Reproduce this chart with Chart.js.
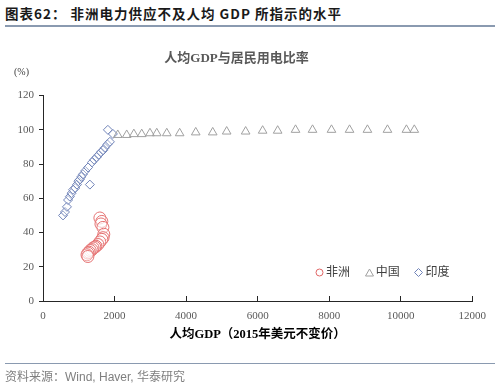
<!DOCTYPE html>
<html>
<head>
<meta charset="utf-8">
<script src="https://cdn.jsdelivr.net/npm/chart.js@4.4.1/dist/chart.umd.min.js"></script>
<style>
  body { margin: 0; background: #fff; width: 500px; height: 386px; position: relative; overflow: hidden;
         font-family: "Noto Sans CJK SC", "Liberation Sans", sans-serif; }
  #chart { position: absolute; left: 0; top: 0; }
  .header { position: absolute; left: 5px; top: 3px; font-size: 13.5px; font-weight: bold; color: #1a1a1a; letter-spacing: 1px; }
  .hline { position: absolute; left: 5px; width: 490px; top: 25px; height: 2px; background: #8a9ab0; }
  .unit { position: absolute; left: 14px; top: 66px; font-size: 10px; color: #404040; font-family: "Liberation Serif", serif; }
  .legend { position: absolute; left: 315px; top: 262px; font-size: 12px; color: #404040; }
  .legend span { margin-right: 12px; }
  .legend svg { vertical-align: -1px; margin-right: 2px; }
  .fline { position: absolute; left: 5px; width: 490px; top: 363px; height: 1px; background: #8a9ab0; }
  .footer { position: absolute; left: 5px; top: 367px; font-size: 12px; color: #7f7f7f; }
  .footer .en { font-family: "Liberation Sans", sans-serif; }
</style>
</head>
<body>
<div class="header">图表62： 非洲电力供应不及人均 GDP 所指示的水平</div>
<div class="hline"></div>
<canvas id="chart" width="500" height="386"></canvas>
<div class="unit">(%)</div>
<div class="legend">
  <span><svg width="9" height="9"><circle cx="4.5" cy="4.5" r="3.5" fill="none" stroke="#e06666" stroke-width="1"/></svg>非洲</span>
  <span><svg width="9" height="9"><polygon points="4.5,1 8.5,8 0.5,8" fill="none" stroke="#a0a0a0" stroke-width="1"/></svg>中国</span>
  <span><svg width="9" height="9"><polygon points="4.5,0.5 8.5,4.5 4.5,8.5 0.5,4.5" fill="none" stroke="#7083b8" stroke-width="1"/></svg>印度</span>
</div>
<div class="fline"></div>
<div class="footer">资料来源：<span class="en">Wind, Haver, </span>华泰研究</div>

<script>
// 人均GDP（2015年美元不变价） vs 居民用电比率 (%)
const africaGdp  = [1590, 1645, 1620, 1675, 1700, 1680, 1645, 1590, 1535, 1480, 1450, 1400, 1370, 1320, 1290, 1255, 1230, 1255];
const africaRate = [48.5, 46.5, 45, 43, 39, 37, 36, 34.5, 33, 32, 31.5, 31, 30, 29.5, 28.5, 28, 27, 26];

const chinaGdp  = [2090, 2340, 2540, 2760, 2990, 3180, 3460, 3820, 4270, 4745, 5135, 5665, 6140, 6560, 7060, 7535, 8065, 8570, 9070, 9630, 10160, 10380];
const chinaRate = [97, 97, 97.5, 97.5, 98, 98, 98, 98, 98.5, 98.5, 99, 99, 99.5, 99.5, 100, 100, 100, 100, 100, 100, 100, 100];

const indiaGdp  = [560, 615, 670, 700, 750, 800, 840, 900, 950, 990, 1030, 1070, 1115, 1180, 1260, 1310, 1370, 1430, 1500, 1560, 1620, 1680, 1730, 1800, 1870, 1814, 1954];
const indiaRate = [50, 52, 55, 59, 61, 63, 65, 66, 68, 70, 71, 72.5, 74, 76, 78, 68, 81, 82.5, 84, 85.5, 87, 88, 89.5, 91.5, 93, 100, 97.6];

const xTicks = [0, 2000, 4000, 6000, 8000, 10000, 12000];
const yTicks = [0, 20, 40, 60, 80, 100, 120];

function pts(xs, ys) {
    return xs.map((x, i) => ({ x: x, y: ys[i] }));
}

const ctx = document.getElementById('chart').getContext('2d');
const chart = new Chart(ctx, {
    type: 'scatter',
    data: {
        datasets: [
            {
                label: '非洲',
                data: pts(africaGdp, africaRate),
                pointStyle: 'circle',
                pointRadius: 6,
                backgroundColor: 'rgba(255,255,255,0.35)',
                borderColor: '#e57373',
                borderWidth: 1
            },
            {
                label: '中国',
                data: pts(chinaGdp, chinaRate),
                pointStyle: 'triangle',
                pointRadius: 5,
                backgroundColor: 'rgba(255,255,255,0)',
                borderColor: '#a0a0a0',
                borderWidth: 1
            },
            {
                label: '印度',
                data: pts(indiaGdp, indiaRate),
                pointStyle: 'rectRot',
                pointRadius: 4.5,
                backgroundColor: 'rgba(255,255,255,0.3)',
                borderColor: '#7083b8',
                borderWidth: 1
            }
        ]
    },
    options: {
        responsive: false,
        animation: false,
        layout: { padding: { top: 30, right: 27, bottom: 44, left: 0 } },
        plugins: {
            legend: { display: false },
            tooltip: { enabled: false },
            title: {
                display: true,
                text: '人均GDP与居民用电比率',
                color: '#595959',
                font: { family: '"Liberation Serif", "Noto Sans CJK SC", serif', size: 13, weight: 'bold' },
                padding: { top: 21, bottom: 29 }
            }
        },
        scales: {
            x: {
                type: 'linear',
                min: 0,
                max: 12000,
                afterBuildTicks: (s) => { s.ticks = xTicks.map(v => ({ value: v })); },
                afterFit: (s) => { s.height = 41; },
                border: { color: '#262626', width: 1 },
                grid: { drawOnChartArea: false, color: '#262626', tickLength: -5 },
                ticks: {
                    padding: 14,
                    color: '#595959',
                    font: { family: '"Liberation Serif", serif', size: 11 },
                    maxRotation: 0,
                    callback: (v) => String(v)
                },
                title: {
                    display: true,
                    text: '人均GDP（2015年美元不变价）',
                    color: '#000',
                    font: { family: '"Liberation Serif", "Noto Sans CJK SC", serif', size: 12.5, weight: 'bold' },
                    padding: { top: 0, bottom: 0 }
                }
            },
            y: {
                min: 0,
                max: 120,
                afterBuildTicks: (s) => { s.ticks = yTicks.map(v => ({ value: v })); },
                afterFit: (s) => { s.width = 43; },
                border: { color: '#262626', width: 1 },
                grid: { drawOnChartArea: false, color: '#262626', tickLength: 4 },
                ticks: {
                    padding: 5,
                    color: '#595959',
                    font: { family: '"Liberation Serif", serif', size: 11 }
                }
            }
        }
    }
});
</script>
</body>
</html>
